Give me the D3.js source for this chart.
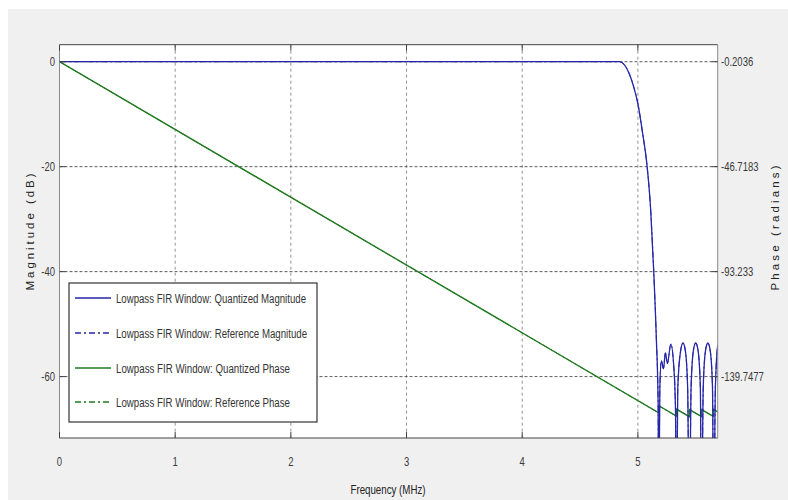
<!DOCTYPE html>
<html>
<head>
<meta charset="utf-8">
<script src="https://cdn.jsdelivr.net/npm/d3@7"></script>
<style>
  html, body { margin: 0; padding: 0; background: #fff; }
  svg { display: block; font-family: "Liberation Sans", Arial, sans-serif; }
</style>
</head>
<body>
<svg id="chart" width="788" height="500"></svg>
<script>
// Waarden
const freqTicks = [0, 1, 2, 3, 4, 5];
const magTicks = [0, -20, -40, -60];
const phaseTicks = [-0.2036, -46.7183, -93.233, -139.7477];
const phaseTickLabels = ['-0.2036', '-46.7183', '-93.233', '-139.7477'];

// Magnitude (dB) tegen frequentie (MHz)
const magFreq = [0, 4.84, 4.88, 4.92, 4.96, 5.0, 5.04, 5.08, 5.11, 5.137, 5.16, 5.175, 5.18,
  5.19, 5.203, 5.221, 5.238, 5.255, 5.285, 5.31, 5.325, 5.333,
  5.345, 5.37, 5.39, 5.41, 5.43, 5.445,
  5.46, 5.48, 5.5, 5.52, 5.54, 5.55,
  5.565, 5.585, 5.605, 5.625, 5.645, 5.655,
  5.67, 5.69];
const magDb = [0, 0, -0.5, -2, -4.5, -8, -13.5, -20, -28, -40, -53, -65, -90,
  -62, -57, -58.5, -55.5, -57.5, -53.8, -58, -66, -90,
  -62, -55, -53.6, -55, -62, -90,
  -62, -55, -53.6, -55, -62, -90,
  -62, -55, -53.6, -55, -62, -90,
  -62, -54];

// Fase (radialen) tegen frequentie (MHz), met sprongen bij de nulpunten
const phaseFreq = [0, 5.18, 5.18, 5.333, 5.333, 5.445, 5.445, 5.55, 5.55, 5.655, 5.655, 5.69];
const phaseRad = [-0.2036, -155.8, -152.66, -157.26, -154.12, -157.5, -154.36, -157.5, -154.36, -157.5, -154.36, -155.4];

const legendLabels = [
  'Lowpass FIR Window: Quantized Magnitude',
  'Lowpass FIR Window: Reference Magnitude',
  'Lowpass FIR Window: Quantized Phase',
  'Lowpass FIR Window: Reference Phase'
];

const blue = '#2626a8';
const green = '#217a21';

const svg = d3.select('#chart');

// achtergrond: witte rand met grijs figuurvlak
svg.append('rect').attr('width', 788).attr('height', 500).attr('fill', '#fff');
svg.append('rect').attr('x', 8).attr('y', 9).attr('width', 780).attr('height', 491).attr('fill', '#f0f0f0');

const plot = { left: 59.5, right: 717.7, top: 44.7, bottom: 438 };

const x = d3.scaleLinear().domain([0, 5.69]).range([plot.left, plot.right]);
const y = d3.scaleLinear().domain([-71.7, 3.24]).range([plot.bottom, plot.top]);
// rechter as: fase-ticks vallen samen met de magnitude-ticks
const yPhase = d3.scaleLinear()
  .domain([phaseTicks[3], phaseTicks[0]])
  .range([y(magTicks[3]), y(magTicks[0])]);

svg.append('rect')
  .attr('x', plot.left).attr('y', plot.top)
  .attr('width', plot.right - plot.left).attr('height', plot.bottom - plot.top)
  .attr('fill', '#fff');

svg.append('clipPath').attr('id', 'clip')
  .append('rect')
  .attr('x', plot.left).attr('y', plot.top)
  .attr('width', plot.right - plot.left).attr('height', plot.bottom - plot.top);

// rasterlijnen
svg.append('g').selectAll('line')
  .data(freqTicks.slice(1))
  .join('line')
  .attr('x1', d => x(d)).attr('x2', d => x(d))
  .attr('y1', plot.top).attr('y2', plot.bottom)
  .attr('stroke', '#777').attr('stroke-width', 0.8).attr('stroke-dasharray', '3,3');

svg.append('g').selectAll('line')
  .data(magTicks)
  .join('line')
  .attr('x1', plot.left).attr('x2', plot.right)
  .attr('y1', d => y(d)).attr('y2', d => y(d))
  .attr('stroke', '#333').attr('stroke-width', 0.8).attr('stroke-dasharray', '3,2');

// lijnen
const lines = svg.append('g').attr('clip-path', 'url(#clip)');
const magData = magFreq.map((f, i) => [f, magDb[i]]);
const phaseData = phaseFreq.map((f, i) => [f, phaseRad[i]]);

const magLine = d3.line().x(d => x(d[0])).y(d => y(d[1])).curve(d3.curveMonotoneX);
const phaseLine = d3.line().x(d => x(d[0])).y(d => yPhase(d[1]));

lines.append('path').datum(phaseData)
  .attr('d', phaseLine).attr('fill', 'none')
  .attr('stroke', green).attr('stroke-width', 1.4);
lines.append('path').datum(phaseData)
  .attr('d', phaseLine).attr('fill', 'none')
  .attr('stroke', green).attr('stroke-width', 1).attr('stroke-dasharray', '6,3,2,3');
lines.append('path').datum(magData)
  .attr('d', magLine).attr('fill', 'none')
  .attr('stroke', blue).attr('stroke-width', 1.3);
lines.append('path').datum(magData)
  .attr('d', magLine).attr('fill', 'none')
  .attr('stroke', blue).attr('stroke-width', 1).attr('stroke-dasharray', '6,3,2,3');

// assenkader en tick-streepjes naar binnen
const frame = svg.append('g');
frame.append('line').attr('x1', plot.left).attr('x2', plot.right).attr('y1', plot.top).attr('y2', plot.top).attr('stroke', '#444');
frame.append('line').attr('x1', plot.left).attr('x2', plot.right).attr('y1', plot.bottom).attr('y2', plot.bottom).attr('stroke', '#444');
frame.append('line').attr('x1', plot.left).attr('x2', plot.left).attr('y1', plot.top).attr('y2', plot.bottom).attr('stroke', '#8a8a8a');
frame.append('line').attr('x1', plot.right).attr('x2', plot.right).attr('y1', plot.top).attr('y2', plot.bottom).attr('stroke', '#8a8a8a');

frame.selectAll('.xt').data(freqTicks).join('line').attr('class', 'xt')
  .attr('x1', d => x(d)).attr('x2', d => x(d))
  .attr('y1', plot.bottom).attr('y2', plot.bottom - 6)
  .attr('stroke', '#444');
frame.selectAll('.xtt').data(freqTicks).join('line').attr('class', 'xtt')
  .attr('x1', d => x(d)).attr('x2', d => x(d))
  .attr('y1', plot.top).attr('y2', plot.top + 6)
  .attr('stroke', '#444');
frame.selectAll('.yl').data(magTicks).join('line').attr('class', 'yl')
  .attr('x1', plot.left).attr('x2', plot.left + 6)
  .attr('y1', d => y(d)).attr('y2', d => y(d))
  .attr('stroke', '#444');
frame.selectAll('.yr').data(phaseTicks).join('line').attr('class', 'yr')
  .attr('x1', plot.right - 6).attr('x2', plot.right)
  .attr('y1', d => yPhase(d)).attr('y2', d => yPhase(d))
  .attr('stroke', '#444');

// tick-labels (smal lettertype, horizontaal samengedrukt)
const label = (g, tx, ty, txt, anchor) => g.append('text')
  .attr('transform', `translate(${tx},${ty}) scale(0.76,1)`)
  .attr('text-anchor', anchor)
  .attr('font-size', 12.5)
  .attr('fill', '#3a3a3a')
  .text(txt);

const tickText = svg.append('g');
freqTicks.forEach(d => label(tickText, x(d), 466, d, 'middle'));
magTicks.forEach(d => label(tickText, 55, y(d) + 4.5, d, 'end'));
phaseTicks.forEach((d, i) => label(tickText, 721, yPhase(d) + 4.5, phaseTickLabels[i], 'start'));

// astitels
svg.append('text')
  .attr('transform', 'translate(34,232) rotate(-90)')
  .attr('text-anchor', 'middle')
  .attr('font-size', 11.5)
  .attr('fill', '#222')
  .attr('textLength', 117)
  .text('Magnitude (dB)');

svg.append('text')
  .attr('transform', 'translate(779,228) rotate(-90)')
  .attr('text-anchor', 'middle')
  .attr('font-size', 11.5)
  .attr('fill', '#222')
  .attr('textLength', 125)
  .text('Phase (radians)');

svg.append('text')
  .attr('x', 388).attr('y', 494)
  .attr('text-anchor', 'middle')
  .attr('font-size', 12)
  .attr('fill', '#222')
  .attr('textLength', 75)
  .attr('lengthAdjust', 'spacingAndGlyphs')
  .text('Frequency (MHz)');

// legenda
const legend = svg.append('g');
legend.append('rect')
  .attr('x', 69).attr('y', 283).attr('width', 248).attr('height', 139)
  .attr('fill', '#fff').attr('stroke', '#333').attr('stroke-width', 1.2);

const legendRows = [298, 333, 368, 402];
const legendColors = [blue, blue, green, green];
const legendDash = [null, '6,3,2,3', null, '6,3,2,3'];
const legendWidths = [190, 191, 174, 174];

legendLabels.forEach((txt, i) => {
  legend.append('line')
    .attr('x1', 75).attr('x2', 111)
    .attr('y1', legendRows[i]).attr('y2', legendRows[i])
    .attr('stroke', legendColors[i]).attr('stroke-width', 1.4)
    .attr('stroke-dasharray', legendDash[i]);
  legend.append('text')
    .attr('x', 116).attr('y', legendRows[i] + 4.5)
    .attr('font-size', 12.5)
    .attr('fill', '#333')
    .attr('textLength', legendWidths[i])
    .attr('lengthAdjust', 'spacingAndGlyphs')
    .text(txt);
});
</script>
</body>
</html>
